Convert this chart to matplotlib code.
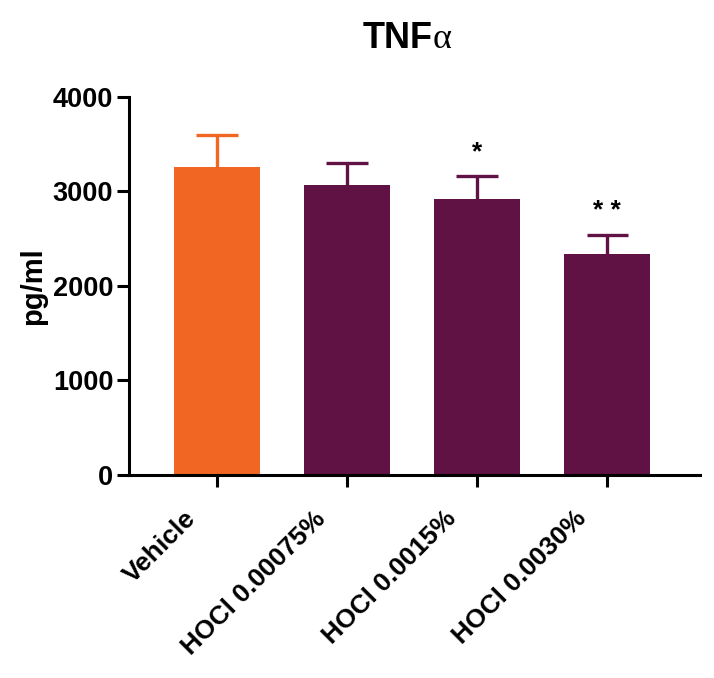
import matplotlib.pyplot as plt
from matplotlib.transforms import ScaledTranslation

plt.rcParams['font.family'] = ['Liberation Sans', 'DejaVu Sans']
plt.rcParams['font.weight'] = 'bold'
plt.rcParams['axes.labelweight'] = 'bold'

groups = ["Vehicle", "HOCl 0.00075%", "HOCl 0.0015%", "HOCl 0.0030%"]
means = [3260, 3070, 2920, 2340]
sems = [340, 235, 245, 200]
stars = ["", "", "*", "* *"]
colors = ["#F26624", "#611244", "#611244", "#611244"]

fig = plt.figure(figsize=(7.14, 6.78), dpi=100)
ax = fig.add_axes([0.181, 0.2994, 0.799, 0.5576])

x = list(range(len(groups)))
ax.bar(x, means, width=0.66, color=colors, zorder=2)
for i in x:
    top = means[i] + sems[i]
    ax.vlines(i, means[i], top, color=colors[i], lw=2.4, zorder=1)
    ax.hlines(top, i - 0.16, i + 0.16, color=colors[i], lw=2.4, zorder=1)
    if stars[i]:
        ax.text(i, top + 250, stars[i], ha='center', va='center',
                fontsize=19, fontweight='bold')

ax.set_xlim(-0.675, 3.71)
ax.set_ylim(0, 4000)
ax.set_yticks([0, 1000, 2000, 3000, 4000])
ax.set_xticks(x)
ax.set_xticklabels([])

# rotated category labels, offset down-left from each tick
shift = ScaledTranslation(-18 / 72, -28.8 / 72, fig.dpi_scale_trans)
for i, g in zip(x, groups):
    ax.text(i, 0, g, transform=ax.get_xaxis_transform() + shift,
            rotation=45, ha='right', va='center', rotation_mode='anchor',
            fontsize=19, clip_on=False)

ax.tick_params(axis='y', labelsize=19.5, width=2.2, length=8.5, pad=3)
ax.tick_params(axis='x', width=2.2, length=8.5)
for side in ['top', 'right']:
    ax.spines[side].set_visible(False)
for side in ['left', 'bottom']:
    ax.spines[side].set_linewidth(2.2)

ax.set_ylabel("pg/ml", fontsize=21, labelpad=4)

# title: bold "TNF" followed by a plain serif alpha
ax.text(0.532, 1.13, "TNF", transform=ax.transAxes, ha='right', va='baseline',
        fontsize=26, fontweight='bold')
ax.text(0.532, 1.13, "α", transform=ax.transAxes, ha='left', va='baseline',
        fontsize=26, fontweight='normal', family='Liberation Serif')

fig.savefig("out.png", dpi=100)
